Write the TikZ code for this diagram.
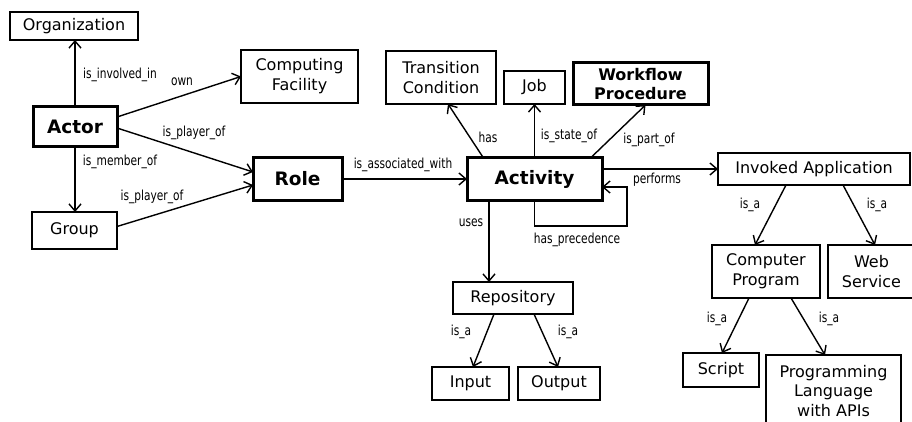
\documentclass[tikz,border=0pt]{standalone}
\usepackage{fontspec}
\setmainfont{DejaVu Sans}
\newfontfamily\labfont[FakeStretch=0.77]{DejaVu Sans}
\usetikzlibrary{arrows.meta}
\tikzset{
  box/.style={draw, line width=1.4pt, inner sep=0pt, outer sep=0pt, align=center,
    font=\fontsize{16}{20}\selectfont},
  bbox/.style={box, line width=3pt, font=\bfseries\fontsize{18.5}{20}\selectfont},
  wbox/.style={box, line width=3pt, font=\bfseries\fontsize{16}{19}\selectfont},
  arr/.style={line width=1.4pt, -{Straight Barb[length=7pt,width=12pt,line width=1.4pt]}},
  lab/.style={inner sep=0pt, font=\labfont\fontsize{13.8}{15}\selectfont}
}
\begin{document}
\begin{tikzpicture}[x=1pt,y=-1pt]
\fill[white] (0,0) rectangle (912,422);
\useasboundingbox (0,0) rectangle (912,422);
\begin{scope}
\clip (0,0) rectangle (912,422);
% nodes
\node[box, minimum width=128pt, minimum height=28pt] (org) at (74,26) {Organization};
\node[box, minimum width=117pt, minimum height=53pt] (cf) at (299.5,76.5) {Computing\\Facility};
\node[bbox, minimum width=84pt, minimum height=40pt] (actor) at (75,127) {Actor};
\node[box, minimum width=85pt, minimum height=37pt] (group) at (74.5,230.5) {Group};
\node[bbox, minimum width=89pt, minimum height=42pt] (role) at (297.5,179) {Role};
\node[box, minimum width=110pt, minimum height=53pt] (tc) at (441,77.5) {Transition\\Condition};
\node[box, minimum width=61pt, minimum height=33pt] (job) at (534.5,87.5) {Job};
\node[wbox, minimum width=135pt, minimum height=42pt] (wp) at (640.5,84) {Workflow\\Procedure};
\node[bbox, minimum width=135pt, minimum height=42pt] (activity) at (534.5,179) {Activity};
\node[box, minimum width=192pt, minimum height=32pt] (ia) at (814,169) {Invoked Application};
\node[box, minimum width=108pt, minimum height=53pt] (cp) at (766,271.5) {Computer\\Program};
\node[box, minimum width=87pt, minimum height=53pt] (ws) at (871.5,271.5) {Web\\Service};
\node[box, minimum width=120pt, minimum height=32pt] (repo) at (513,298) {Repository};
\node[box, minimum width=77pt, minimum height=33pt] (input) at (470.5,383.5) {Input};
\node[box, minimum width=82pt, minimum height=33pt] (output) at (559,383.5) {Output};
\node[box, minimum width=76pt, minimum height=34pt] (script) at (721,370) {Script};
\node[box, minimum width=135pt, minimum height=72pt, font=\fontsize{16}{19.5}\selectfont] (pl) at (833.5,391) {Programming\\Language\\with APIs};
% connectors
\draw[arr] (actor.north) -- (actor.north |- org.south);
\draw[arr] ([yshift=10pt]actor.east) -- (cf.west);
\draw[arr] ([yshift=-1pt]actor.east) -- ([yshift=7pt]role.west);
\draw[arr] (actor.south) -- (actor.south |- group.north);
\draw[arr] ([yshift=4pt]group.east) -- ([yshift=-6pt]role.west);
\draw[arr] (role.east) -- (activity.west);
\draw[arr] ([xshift=-51pt]activity.north) -- ([xshift=7pt]tc.south);
\draw[arr] (activity.north) -- (job.south);
\draw[arr] ([xshift=56pt]activity.north) -- ([xshift=5pt]wp.south);
\draw[arr] ([yshift=10pt]activity.east) -- (ia.west);
\draw[arr] (activity.south) -- ++(0,26) -| ([xshift=25pt,yshift=-8pt]activity.east) -- ([yshift=-8pt]activity.east);
\draw[arr] ([xshift=-45.5pt]activity.south) -- ([xshift=-24pt]repo.north);
\draw[arr] ([xshift=-19pt]repo.south) -- ([xshift=2.5pt]input.north);
\draw[arr] ([xshift=21pt]repo.south) -- ([xshift=-1pt]output.north);
\draw[arr] ([xshift=-28pt]ia.south) -- ([xshift=-11pt]cp.north);
\draw[arr] ([xshift=29pt]ia.south) -- ([xshift=3.5pt]ws.north);
\draw[arr] ([xshift=-17pt]cp.south) -- ([xshift=1pt]script.north);
\draw[arr] ([xshift=25pt]cp.south) -- ([xshift=-8.5pt]pl.north);
% labels
\node[lab] (l1) at (120,75) {is\_involved\_in};
\node[lab] (l2) at (182,82) {own};
\node[lab] (l3) at (194,133) {is\_player\_of};
\node[lab] (l4) at (120,162) {is\_member\_of};
\node[lab] (l5) at (152,197) {is\_player\_of};
\node[lab] (l6) at (403,165) {is\_associated\_with};
\node[lab] (l7) at (488,137) {has};
\node[lab] (l8) at (569,136) {is\_state\_of};
\node[lab] (l9) at (649,140) {is\_part\_of};
\node[lab] (l10) at (657,180) {performs};
\node[lab] (l11) at (577,240) {has\_precedence};
\node[lab] (l12) at (471,223) {uses};
\node[lab] (l13) at (461,332) {is\_a};
\node[lab] (l14) at (568,332) {is\_a};
\node[lab] (l15) at (750,205) {is\_a};
\node[lab] (l16) at (877,205) {is\_a};
\node[lab] (l17) at (717,319) {is\_a};
\node[lab] (l18) at (829,319) {is\_a};
\end{scope}
\end{tikzpicture}
\end{document}
